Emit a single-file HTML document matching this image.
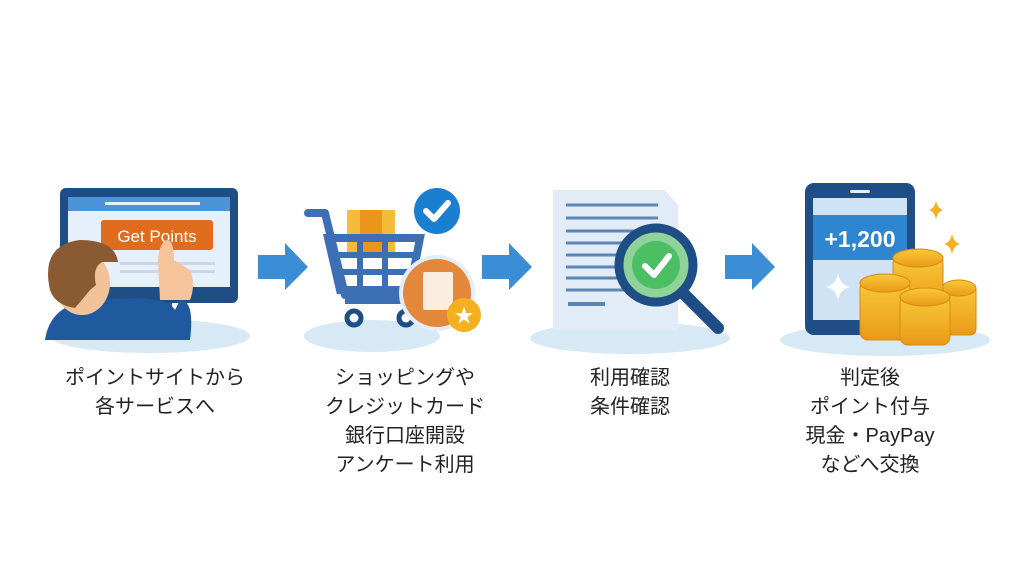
<!DOCTYPE html>
<html><head><meta charset="utf-8"><style>
body{margin:0;width:1024px;height:576px;background:#fff;overflow:hidden;position:relative;font-family:"Liberation Sans","Noto Sans CJK JP",sans-serif}
.t{position:absolute;width:240px;text-align:center;font-size:20px;line-height:29px;color:#222}
svg{position:absolute;left:0;top:0}
</style></head><body>
<svg width="1024" height="576" viewBox="0 0 1024 576">
<defs><linearGradient id="c" x1="0" x2="0" y1="0" y2="1"><stop offset="0" stop-color="#f9c938"/><stop offset="1" stop-color="#e89a18"/></linearGradient></defs>
<!-- bases -->
<ellipse cx="150" cy="336" rx="100" ry="17" fill="#d8e9f6"/>
<ellipse cx="372" cy="336" rx="68" ry="16" fill="#d8e9f6"/>
<ellipse cx="630" cy="338" rx="100" ry="16" fill="#d8e9f6"/>
<ellipse cx="885" cy="340" rx="105" ry="16" fill="#d8e9f6"/>
<!-- panel1 monitor -->
<rect x="128" y="298" width="44" height="22" fill="#2c5d96"/>
<rect x="115" y="318" width="75" height="8" rx="3" fill="#1f4e86"/>
<rect x="60" y="188" width="178" height="115" rx="6" fill="#1f4e86"/>
<rect x="68" y="197" width="162" height="90" fill="#e6f0fa"/>
<rect x="68" y="197" width="162" height="14" fill="#4d94d6"/>
<rect x="105" y="202" width="95" height="3" fill="#e6f0fa"/>
<rect x="101" y="220" width="112" height="30" rx="3" fill="#e06d1e"/>
<text x="157" y="242" font-size="17" fill="#fff" text-anchor="middle" font-family="Liberation Sans">Get Points</text>
<rect x="120" y="262" width="95" height="3" fill="#c8d8e8"/><rect x="120" y="270" width="95" height="3" fill="#c8d8e8"/>
<path d="M45 340 Q50 305 90 300 L140 298 Q170 300 175 310 L180 300 Q195 300 190 340Z" fill="#1f5a9e"/>
<ellipse cx="82" cy="283" rx="28" ry="32" fill="#f2c39a"/>
<path d="M50 290 Q40 245 80 240 Q115 240 118 262 L102 262 Q92 268 96 285 L90 290 Q82 300 75 308 Q55 305 50 290Z" fill="#8a5a32"/>
<path d="M160 300 L158 260 Q160 240 168 240 Q174 242 174 260 L190 270 Q196 285 190 300Z" fill="#f5c49a"/>
<!-- arrows -->
<path d="M258 255 H285 V243 L308 267 L285 290 V279 H258Z" fill="#3b8ed6"/>
<path d="M482 255 H509 V243 L532 267 L509 290 V279 H482Z" fill="#3b8ed6"/>
<path d="M725 255 H752 V243 L775 267 L752 290 V279 H725Z" fill="#3b8ed6"/>
<!-- panel2 cart -->
<rect x="347" y="210" width="48" height="48" fill="#f5bb3a"/><rect x="360" y="210" width="22" height="48" fill="#e9961a"/>
<path d="M308 213 H325 L345 295 H410" fill="none" stroke="#3d6fb5" stroke-width="8" stroke-linecap="round" stroke-linejoin="round"/>
<path d="M328 238 H420 L410 290 H340Z" fill="none" stroke="#3d6fb5" stroke-width="8"/>
<path d="M334 255 H418 M336 272 H414 M360 238 V290 M385 238 V290" stroke="#3d6fb5" stroke-width="6"/>
<path d="M345 300 H420" stroke="#3d6fb5" stroke-width="8"/>
<circle cx="354" cy="318" r="7" fill="none" stroke="#1f4e86" stroke-width="5"/>
<circle cx="406" cy="318" r="7" fill="none" stroke="#1f4e86" stroke-width="5"/>
<circle cx="437" cy="211" r="23" fill="#1a7fd0"/>
<path d="M426 211 L434 219 L448 203" fill="none" stroke="#fff" stroke-width="6" stroke-linecap="round" stroke-linejoin="round"/>
<circle cx="437" cy="293" r="38" fill="#e4eef8"/>
<circle cx="437" cy="293" r="34" fill="#e3873a"/>
<rect x="423" y="272" width="30" height="38" rx="2" fill="#fbeee0"/>
<circle cx="464" cy="315" r="17" fill="#f5b020"/>
<text x="464" y="322" font-size="19" fill="#fff" text-anchor="middle">★</text>
<!-- panel3 doc -->
<path d="M553 190 H665 L678 205 V330 H553Z" fill="#e1ecf7"/>
<g stroke="#5b86b3" stroke-width="3">
<path d="M566 205 H658 M566 218 H658 M566 231 H640 M566 243 H630 M566 255 H625 M566 267 H620 M566 278 H620 M566 290 H625"/>
<path d="M568 304 H605" stroke-width="4"/></g>
<path d="M682 292 L718 328" stroke="#1f4e86" stroke-width="12" stroke-linecap="round"/>
<circle cx="656" cy="265" r="37" fill="#8fd39b" stroke="#1f4e86" stroke-width="9"/>
<circle cx="656" cy="265" r="24" fill="#4cbf65"/>
<path d="M645 266 L654 275 L669 256" fill="none" stroke="#fff" stroke-width="6" stroke-linecap="round" stroke-linejoin="round"/>
<!-- panel4 phone -->
<rect x="805" y="183" width="110" height="152" rx="9" fill="#1f4e86"/>
<rect x="813" y="198" width="94" height="122" fill="#cfe3f5"/>
<rect x="813" y="215" width="94" height="45" fill="#2f86d0"/>
<rect x="850" y="190" width="20" height="3" rx="1.5" fill="#e6f0fa"/>
<text x="860" y="247" font-size="23" font-weight="bold" fill="#fff" text-anchor="middle" font-family="Liberation Sans">+1,200</text>
<path d="M838 273 Q840 285 850 287 Q840 289 838 300 Q836 289 826 287 Q836 285 838 273Z" fill="#fff"/>
<path d="M936 200 Q937 208 943 210 Q937 212 936 220 Q935 212 929 210 Q935 208 936 200Z" fill="#f5b020"/>
<path d="M952 233 Q953 242 960 244 Q953 246 952 255 Q951 246 944 244 Q951 242 952 233Z" fill="#f5b020"/>
<g fill="url(#c)" stroke="#d88a12" stroke-width="1">
<rect x="943" y="285" width="33" height="50" rx="6"/><ellipse cx="959" cy="288" rx="17" ry="8"/>
<rect x="893" y="255" width="50" height="55" rx="8"/><ellipse cx="918" cy="258" rx="25" ry="9"/>
<rect x="860" y="280" width="50" height="60" rx="8"/><ellipse cx="885" cy="283" rx="25" ry="9"/>
<rect x="900" y="295" width="50" height="50" rx="8"/><ellipse cx="925" cy="297" rx="25" ry="9"/>
</g>
</svg>
<div class="t" style="left:35px;top:364px">ポイントサイトから<br>各サービスへ</div>
<div class="t" style="left:285px;top:364px">ショッピングや<br>クレジットカード<br>銀行口座開設<br>アンケート利用</div>
<div class="t" style="left:510px;top:364px">利用確認<br>条件確認</div>
<div class="t" style="left:750px;top:364px">判定後<br>ポイント付与<br>現金・PayPay<br>などへ交換</div>
</body></html>
